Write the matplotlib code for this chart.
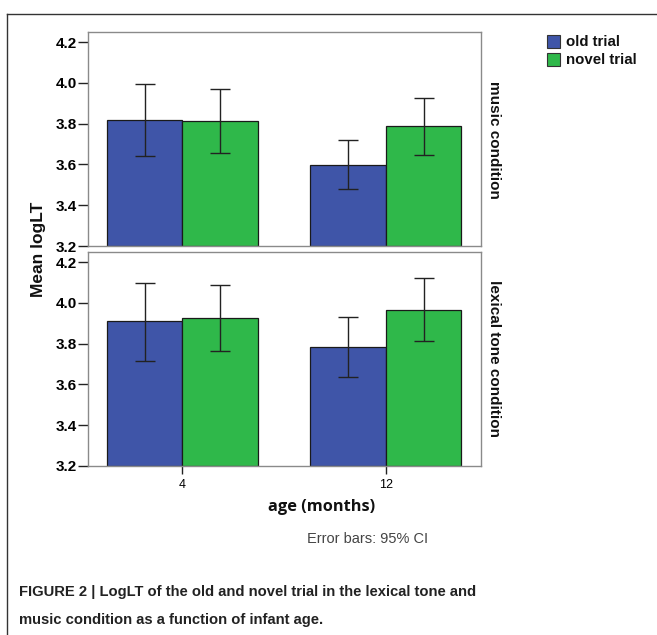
import matplotlib
matplotlib.use('Agg')
import matplotlib.pyplot as plt
from matplotlib.patches import Rectangle
from matplotlib.lines import Line2D
import numpy as np

# 데이터
ages = ['4', '12']
conditions = ['music condition', 'lexical tone condition']
series = ['old trial', 'novel trial']

music_old = [3.818, 3.597]
music_old_lo = [3.641, 3.481]
music_old_hi = [3.993, 3.718]
music_novel = [3.814, 3.787]
music_novel_lo = [3.654, 3.646]
music_novel_hi = [3.968, 3.925]

lexical_old = [3.909, 3.783]
lexical_old_lo = [3.716, 3.636]
lexical_old_hi = [4.100, 3.929]
lexical_novel = [3.925, 3.966]
lexical_novel_lo = [3.764, 3.813]
lexical_novel_hi = [4.087, 4.120]

yticks = [3.2, 3.4, 3.6, 3.8, 4.0, 4.2]

colors = {
    'old': '#3F55A8',
    'novel': '#2FB84A',
    'edge': '#1a1a1a',
    'frame': '#8a8a8a',
    'text': '#111111',
}

W, H = 657, 635
fig = plt.figure(figsize=(W / 100, H / 100), dpi=100)
fig.patch.set_facecolor('white')
plt.rcParams['font.family'] = ['Liberation Sans', 'DejaVu Sans']


def px(x, y):
    # 픽셀 좌표 -> figure 좌표
    return x / W, 1 - y / H


# 패널 위치 (픽셀)
panel_top = [(88, 32, 481, 246), (88, 252, 481, 466)]
panel_data = [
    (music_old, music_old_lo, music_old_hi, music_novel, music_novel_lo, music_novel_hi),
    (lexical_old, lexical_old_lo, lexical_old_hi, lexical_novel, lexical_novel_lo, lexical_novel_hi),
]

x = np.arange(len(ages))
bw = 0.371
axes = []
for i, ((l, t, r, b), d) in enumerate(zip(panel_top, panel_data)):
    ax = fig.add_axes([l / W, 1 - b / H, (r - l) / W, (b - t) / H])
    axes.append(ax)
    old, old_lo, old_hi, nov, nov_lo, nov_hi = d
    old = np.array(old); nov = np.array(nov)
    ax.bar(x - bw / 2, old - 3.2, bw, bottom=3.2, color=colors['old'],
           edgecolor=colors['edge'], linewidth=0.9, zorder=2)
    ax.bar(x + bw / 2, nov - 3.2, bw, bottom=3.2, color=colors['novel'],
           edgecolor=colors['edge'], linewidth=0.9, zorder=2)
    ax.errorbar(x - bw / 2, old, yerr=[old - np.array(old_lo), np.array(old_hi) - old],
                fmt='none', ecolor='#222222', elinewidth=1, capsize=7, capthick=1, zorder=3)
    ax.errorbar(x + bw / 2, nov, yerr=[nov - np.array(nov_lo), np.array(nov_hi) - nov],
                fmt='none', ecolor='#222222', elinewidth=1, capsize=7, capthick=1, zorder=3)
    ax.set_xlim(-0.463, 1.467)
    ax.set_ylim(3.2, 4.25)
    ax.set_yticks(yticks)
    ax.set_yticklabels([f'{v:.1f}' for v in yticks], fontsize=11, fontweight='bold')
    ax.tick_params(axis='y', direction='out', length=7, width=1, color='#222222', pad=1)
    for s in ax.spines.values():
        s.set_color(colors['frame'])
        s.set_linewidth(1)
    if i == 0:
        ax.set_xticks([])
    else:
        ax.set_xticks(x)
        ax.set_xticklabels(ages, fontsize=9)
        ax.tick_params(axis='x', direction='out', length=6, width=1, color='#222222', pad=3)

# 오른쪽 조건 라벨
fig.text(*px(494, 140), conditions[0], rotation=-90, ha='center', va='center',
         fontsize=11, fontweight='bold', color=colors['text'])
fig.text(*px(494, 359), conditions[1], rotation=-90, ha='center', va='center',
         fontsize=11, fontweight='bold', color=colors['text'])

# y축 라벨
fig.text(*px(39, 249), 'Mean logLT', rotation=90, ha='center', va='center',
         fontsize=12.5, fontweight='bold', color=colors['text'])

# x축 라벨
fig.text(*px(322, 507), 'age (months)', ha='center', va='center',
         fontsize=11.8, fontweight='bold', color=colors['text'], family=['Open Sans'])
fig.text(*px(368, 539), 'Error bars: 95% CI', ha='center', va='center',
         fontsize=10.5, color='#444444')

# 범례 (수동)
for j, (name, key) in enumerate(zip(series, ['old', 'novel'])):
    y0 = 35 + j * 18
    fig.patches.append(Rectangle(px(547, y0 + 13), 13 / W, 13 / H, transform=fig.transFigure,
                                 facecolor=colors[key], edgecolor='#333333', linewidth=0.8))
    fig.text(*px(566, y0 + 7), name, ha='left', va='center', fontsize=10.8,
             fontweight='bold', color=colors['text'])

# 캡션
fig.text(*px(19, 592), 'FIGURE 2 | LogLT of the old and novel trial in the lexical tone and',
         ha='left', va='center', fontsize=10.6, fontweight='bold', color='#222222')
fig.text(*px(19, 620), 'music condition as a function of infant age.',
         ha='left', va='center', fontsize=10.6, fontweight='bold', color='#222222')

# 테두리 선
fig.lines.append(Line2D([7 / W, 1], [1 - 14 / H, 1 - 14 / H], transform=fig.transFigure,
                        color='#333333', linewidth=1))
fig.lines.append(Line2D([7 / W, 7 / W], [0, 1 - 14 / H], transform=fig.transFigure,
                        color='#333333', linewidth=1))

plt.savefig('out.png', dpi=100)
plt.close()
